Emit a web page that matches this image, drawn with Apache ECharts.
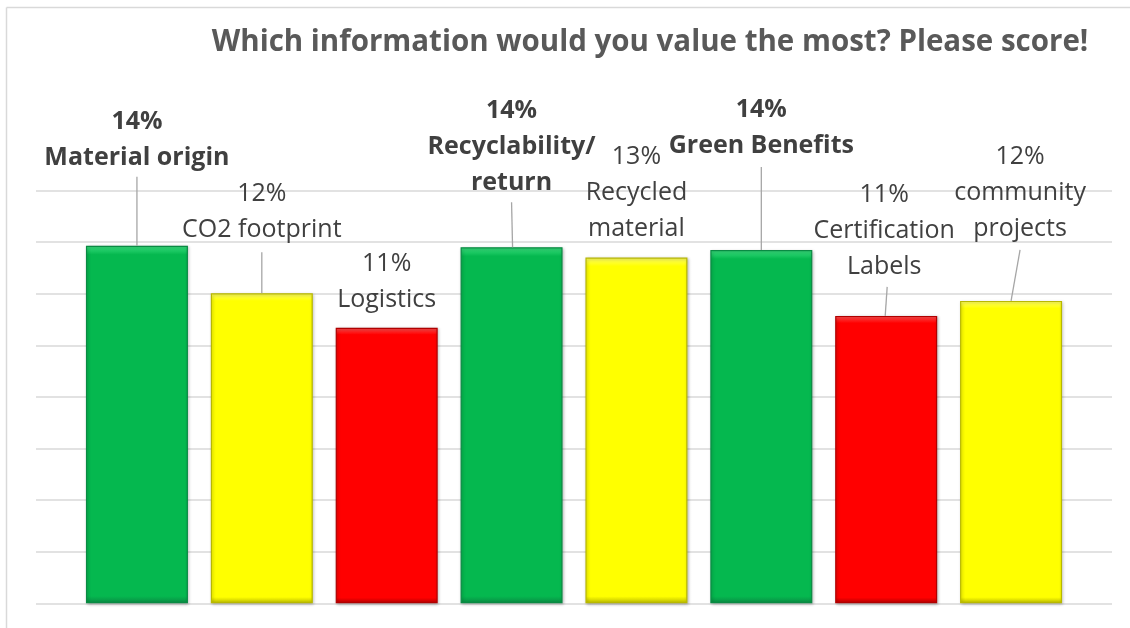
<!DOCTYPE html>
<html>
<head>
<meta charset="utf-8">
<script src="https://cdn.jsdelivr.net/npm/echarts@6/dist/echarts.min.js"></script>
<style>
html,body{margin:0;padding:0;background:#fff;}
#chart{width:1130px;height:628px;}
</style>
</head>
<body>
<div id="chart"></div>
<script>
// ---- data ----
const categories = ['Material origin', 'CO2 footprint', 'Logistics', 'Recyclability/\nreturn', 'Recycled\nmaterial', 'Green Benefits', 'Certification\nLabels', 'community\nprojects'];
const values = [13.86, 12.02, 10.68, 13.80, 13.40, 13.69, 11.14, 11.72];
const valueLabels = ['14%', '12%', '11%', '14%', '13%', '14%', '11%', '12%'];
const ratings = ['green', 'yellow', 'red', 'green', 'yellow', 'green', 'red', 'yellow'];
const boldLabel = [true, false, false, true, false, true, false, false];
const yTicks = [0, 2, 4, 6, 8, 10, 12, 14, 16];

// ---- styles / label layout (pixels) ----
const palette = {
  green:  {top: '#3be07f', main: '#05b84f', border: '#0a8a43'},
  yellow: {top: '#ffff66', main: '#ffff00', border: '#b8b800'},
  red:    {top: '#ff5050', main: '#ff0000', border: '#b00000'}
};
const labelLift = [88, 63, 28, 64, 29, 104, 49, 72];
const labelDx = [0, 0, 0, 0, 0, 0, -2, 9];
const leader = [
  [0, 0, 69], [0, 0, 41], null, [1, 0, 45], null, [0, 0, 83], [-1, 1, 29], [0, 9, 51]
];

const FONT = '"Open Sans", Lato, sans-serif';
const LINE_H = 36;

const chart = echarts.init(document.getElementById('chart'));

const barData = values.map((v, i) => {
  const p = palette[ratings[i]];
  return {
    value: v,
    itemStyle: {
      color: {
        type: 'linear', x: 0, y: 0, x2: 0, y2: 1,
        colorStops: [
          {offset: 0, color: p.top},
          {offset: 0.025, color: p.main},
          {offset: 0.98, color: p.main},
          {offset: 1, color: p.border}
        ]
      },
      borderColor: p.border,
      borderWidth: 1.2,
      shadowColor: 'rgba(0,0,0,0.25)',
      shadowBlur: 3,
      shadowOffsetX: 1,
      shadowOffsetY: 1
    }
  };
});

const option = {
  animation: false,
  backgroundColor: '#ffffff',
  title: {
    text: 'Which information would you value the most? Please score!',
    left: 645,
    top: 23,
    textAlign: 'center',
    textStyle: {fontFamily: FONT, fontWeight: 'bold', fontSize: 29.5, color: '#595959'}
  },
  graphic: [
    {type: 'line', shape: {x1: 6.5, y1: 7.5, x2: 1130, y2: 7.5}, style: {stroke: '#d9d9d9', lineWidth: 1.5}, silent: true},
    {type: 'line', shape: {x1: 6.5, y1: 7.5, x2: 6.5, y2: 628}, style: {stroke: '#d9d9d9', lineWidth: 1.5}, silent: true}
  ],
  grid: [
    {left: 74.5, right: 56.5, top: 190.5, bottom: 24.7},
    {left: 36, right: 18, top: 190.5, bottom: 24.7}
  ],
  xAxis: [
    {type: 'category', data: categories, gridIndex: 0, axisLine: {show: false}, axisTick: {show: false}, axisLabel: {show: false}},
    {type: 'category', data: categories, gridIndex: 1, show: false}
  ],
  yAxis: [
    {type: 'value', gridIndex: 0, min: yTicks[0], max: yTicks[yTicks.length - 1], interval: 2, show: false, splitLine: {show: false}},
    {type: 'value', gridIndex: 1, min: yTicks[0], max: yTicks[yTicks.length - 1], interval: 2,
     axisLine: {show: false}, axisTick: {show: false}, axisLabel: {show: false},
     splitLine: {show: true, lineStyle: {color: '#d9d9d9', width: 1.5}}}
  ],
  series: [
    {
      type: 'bar',
      xAxisIndex: 0, yAxisIndex: 0,
      data: barData,
      barWidth: 102,
      z: 3
    },
    {
      type: 'custom',
      xAxisIndex: 0, yAxisIndex: 0,
      data: values.map((v, i) => [i, v]),
      z: 4,
      renderItem: function (params, api) {
        const i = params.dataIndex;
        const pt = api.coord([api.value(0), api.value(1)]);
        const x = pt[0], yTop = pt[1];
        const lines = [valueLabels[i]].concat(categories[i].split('\n'));
        const children = [];
        const lastCenter = yTop - labelLift[i];
        lines.forEach((t, k) => {
          const cy = lastCenter - (lines.length - 1 - k) * LINE_H;
          children.push({
            type: 'text',
            style: {
              text: t,
              x: x + labelDx[i],
              y: cy,
              align: 'center',
              verticalAlign: 'middle',
              fontFamily: FONT,
              fontSize: 25,
              fontWeight: boldLabel[i] ? 'bold' : 'normal',
              fill: '#404040'
            }
          });
        });
        if (leader[i]) {
          const L = leader[i];
          children.push({
            type: 'line',
            shape: {x1: x + L[0], y1: yTop, x2: x + L[1], y2: yTop - L[2]},
            style: {stroke: '#a6a6a6', lineWidth: 1.3}
          });
        }
        return {type: 'group', children: children};
      }
    }
  ]
};

chart.setOption(option);
</script>
</body>
</html>
